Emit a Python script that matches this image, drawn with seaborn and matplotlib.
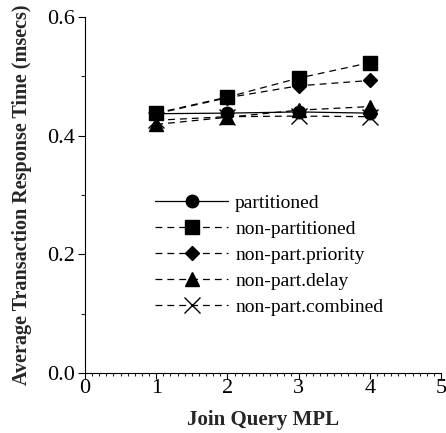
import matplotlib
matplotlib.use("Agg")
import matplotlib.pyplot as plt
from matplotlib.ticker import MultipleLocator, FormatStrFormatter
import seaborn as sns
import pandas as pd

# Join query multiprogramming level
mpl_levels = [1, 2, 3, 4]

# Average transaction response time (msecs) per scheduling policy
partitioned = [0.437, 0.438, 0.440, 0.438]
non_partitioned = [0.438, 0.465, 0.497, 0.523]
non_part_priority = [0.437, 0.464, 0.484, 0.493]
non_part_delay = [0.419, 0.431, 0.443, 0.449]
non_part_combined = [0.426, 0.432, 0.433, 0.432]

series_names = ["partitioned", "non-partitioned", "non-part.priority",
                "non-part.delay", "non-part.combined"]
series_values = [partitioned, non_partitioned, non_part_priority,
                 non_part_delay, non_part_combined]
series_markers = ["o", "s", "D", "^", "x"]
series_sizes = [9, 9.5, 7.5, 9.5, 11]
series_solid = [True, False, False, False, False]

sns.set_theme(style="ticks")
plt.rcParams["font.family"] = ["Liberation Serif", "DejaVu Serif"]

fig = plt.figure(figsize=(4.46, 4.33), dpi=100)
ax = fig.add_axes([85 / 446, 1 - 373 / 433, (441 - 85) / 446, (373 - 17) / 433])

for name, vals, mk, ms, solid in zip(series_names, series_values, series_markers,
                                     series_sizes, series_solid):
    df = pd.DataFrame({"mpl": mpl_levels, "resp": vals})
    kws = dict(color="black", marker=mk, markersize=ms, linewidth=0.9,
               markeredgecolor="black", markerfacecolor="black",
               markeredgewidth=1.0, label=name, ax=ax)
    if not solid:
        kws["linestyle"] = (0, (5.5, 4))
    sns.lineplot(data=df, x="mpl", y="resp", **kws)

ax.set_xlim(0, 5)
ax.set_ylim(0, 0.6)
ax.xaxis.set_major_locator(MultipleLocator(1))
ax.xaxis.set_minor_locator(MultipleLocator(0.1))
ax.yaxis.set_major_locator(MultipleLocator(0.2))
ax.yaxis.set_minor_locator(MultipleLocator(0.1))
ax.xaxis.set_major_formatter(FormatStrFormatter("%d"))
ax.yaxis.set_major_formatter(FormatStrFormatter("%.1f"))

ax.tick_params(axis="x", which="major", direction="out", length=4, width=0.8,
               labelsize=16, pad=0, colors="black")
ax.tick_params(axis="x", which="minor", direction="out", length=2, width=0.8)
ax.tick_params(axis="y", which="major", direction="out", length=5, width=0.8,
               labelsize=16, pad=2, colors="black")
ax.tick_params(axis="y", which="minor", direction="out", length=3, width=0.8)

for side in ("top", "right"):
    ax.spines[side].set_visible(False)
for side in ("left", "bottom"):
    ax.spines[side].set_linewidth(0.8)
    ax.spines[side].set_color("black")

ax.set_xlabel("Join Query MPL", fontsize=15, fontweight="bold", labelpad=9)
ax.set_ylabel("Average Transaction Response Time (msecs)", fontsize=14.5,
              fontweight="bold", labelpad=11)

leg = ax.legend(loc="upper left", bbox_to_anchor=(155 / 446, 1 - 194 / 433),
                bbox_transform=fig.transFigure, frameon=False, fontsize=14,
                handlelength=3.76, handletextpad=0.36, labelspacing=0.43,
                borderpad=0, borderaxespad=0)
for t in leg.get_texts():
    t.set_color("black")

fig.savefig("out.png", dpi=100)
